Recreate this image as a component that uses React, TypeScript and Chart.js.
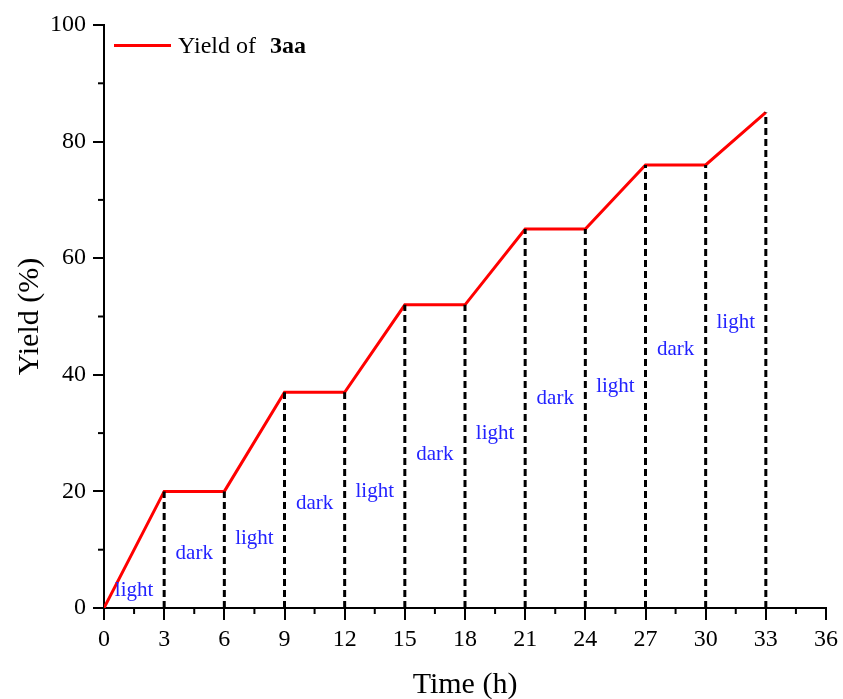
import React, { useEffect, useRef } from "react";
import { Chart, registerables } from "chart.js";

Chart.register(...registerables);

const timeH = [0, 3, 6, 9, 12, 15, 18, 21, 24, 27, 30, 33];
const yieldPct = [0, 20, 20, 37, 37, 52, 52, 65, 65, 76, 76, 85];

const phaseX = [1.5, 4.5, 7.5, 10.5, 13.5, 16.5, 19.5, 22.5, 25.5, 28.5, 31.5];
const phaseY = [3, 9.3, 12, 18, 20, 26.4, 30, 36, 38, 44.4, 49];
const phaseText = ["light", "dark", "light", "dark", "light", "dark", "light", "dark", "light", "dark", "light"];

const xTicks = [0, 3, 6, 9, 12, 15, 18, 21, 24, 27, 30, 33, 36];
const yTicks = [0, 20, 40, 60, 80, 100];

const FONT = "'Liberation Serif', 'Times New Roman', serif";

export default function App() {
  const ref = useRef<HTMLCanvasElement | null>(null);
  useEffect(() => {
    if (!ref.current) return;
    const mainData = timeH.map((t, i) => ({ x: t, y: yieldPct[i] }));
    const dropData: { x: number; y: number | null }[] = [];
    timeH.forEach((t, i) => {
      if (t === 0) return;
      dropData.push({ x: t, y: 0 });
      dropData.push({ x: t, y: yieldPct[i] });
      dropData.push({ x: t, y: null });
    });

    const overlay = {
      id: "overlay",
      afterDraw(chart: any) {
        const ctx = chart.ctx;
        const xs = chart.scales.x;
        const ys = chart.scales.y;
        const area = chart.chartArea;
        ctx.save();
        // minor ticks
        ctx.strokeStyle = "#000";
        ctx.lineWidth = 2;
        for (let v = 1.5; v < 36; v += 3) {
          const px = xs.getPixelForValue(v);
          ctx.beginPath();
          ctx.moveTo(px, area.bottom);
          ctx.lineTo(px, area.bottom + 6);
          ctx.stroke();
        }
        for (let v = 10; v < 100; v += 20) {
          const py = ys.getPixelForValue(v);
          ctx.beginPath();
          ctx.moveTo(area.left, py);
          ctx.lineTo(area.left - 6, py);
          ctx.stroke();
        }
        // phase labels
        ctx.fillStyle = "#2323ff";
        ctx.font = `21px ${FONT}`;
        ctx.textAlign = "center";
        ctx.textBaseline = "middle";
        phaseText.forEach((t, i) => {
          ctx.fillText(t, xs.getPixelForValue(phaseX[i]), ys.getPixelForValue(phaseY[i]));
        });
        // legend
        const ly = ys.getPixelForValue(96.5);
        const lx = area.left + 10;
        ctx.strokeStyle = "#ff0000";
        ctx.lineWidth = 3;
        ctx.beginPath();
        ctx.moveTo(lx, ly);
        ctx.lineTo(lx + 57, ly);
        ctx.stroke();
        ctx.fillStyle = "#000";
        ctx.textAlign = "left";
        ctx.textBaseline = "middle";
        ctx.font = `24px ${FONT}`;
        const t1 = "Yield of ";
        ctx.fillText(t1, lx + 64, ly + 1);
        const w1 = ctx.measureText(t1).width;
        ctx.font = `bold 24px ${FONT}`;
        ctx.fillText("3aa", lx + 64 + w1 + 8, ly + 1);
        // axis titles
        ctx.font = `30px ${FONT}`;
        ctx.textAlign = "center";
        ctx.fillText("Time (h)", (area.left + area.right) / 2, 685);
        ctx.translate(30, (area.top + area.bottom) / 2);
        ctx.rotate(-Math.PI / 2);
        ctx.fillText("Yield (%)", 0, 0);
        ctx.restore();
      },
    };

    const chart = new Chart(ref.current, {
      type: "line",
      data: {
        datasets: [
          {
            label: "drop",
            data: dropData as any,
            borderColor: "#000",
            borderWidth: 3,
            borderDash: [7, 4],
            pointRadius: 0,
            spanGaps: false,
            fill: false,
          },
          {
            label: "Yield of 3aa",
            data: mainData,
            borderColor: "#ff0000",
            borderWidth: 3,
            pointRadius: 0,
            tension: 0,
            fill: false,
          },
        ],
      },
      options: {
        animation: false,
        responsive: false,
        maintainAspectRatio: false,
        layout: { padding: { top: 25, right: 16, left: 0, bottom: 0 } },
        plugins: { legend: { display: false }, tooltip: { enabled: false } },
        scales: {
          x: {
            type: "linear",
            min: 0,
            max: 36,
            afterFit(scale: any) {
              scale.height = 91;
            },
            afterBuildTicks(scale: any) {
              scale.ticks = xTicks.map((v) => ({ value: v }));
            },
            grid: {
              display: true,
              drawOnChartArea: false,
              drawTicks: true,
              tickLength: 12,
              lineWidth: 2,
              color: "#000",
            },
            border: { display: true, color: "#000", width: 2 },
            ticks: {
              color: "#000",
              font: { family: FONT, size: 24 },
              padding: 5,
              maxRotation: 0,
              autoSkip: false,
            },
          },
          y: {
            type: "linear",
            min: 0,
            max: 100,
            afterFit(scale: any) {
              scale.width = 104;
            },
            afterBuildTicks(scale: any) {
              scale.ticks = yTicks.map((v) => ({ value: v }));
            },
            grid: {
              display: true,
              drawOnChartArea: false,
              drawTicks: true,
              tickLength: 11,
              lineWidth: 2,
              color: "#000",
            },
            border: { display: true, color: "#000", width: 2 },
            ticks: {
              color: "#000",
              font: { family: FONT, size: 24 },
              padding: 7,
              autoSkip: false,
            },
          },
        },
      },
      plugins: [overlay],
    });
    return () => chart.destroy();
  }, []);

  return (
    <div style={{ position: "absolute", left: 0, top: 0, width: 843, height: 699, background: "#fff" }}>
      <canvas ref={ref} width={843} height={699} style={{ width: 843, height: 699 }} />
    </div>
  );
}
